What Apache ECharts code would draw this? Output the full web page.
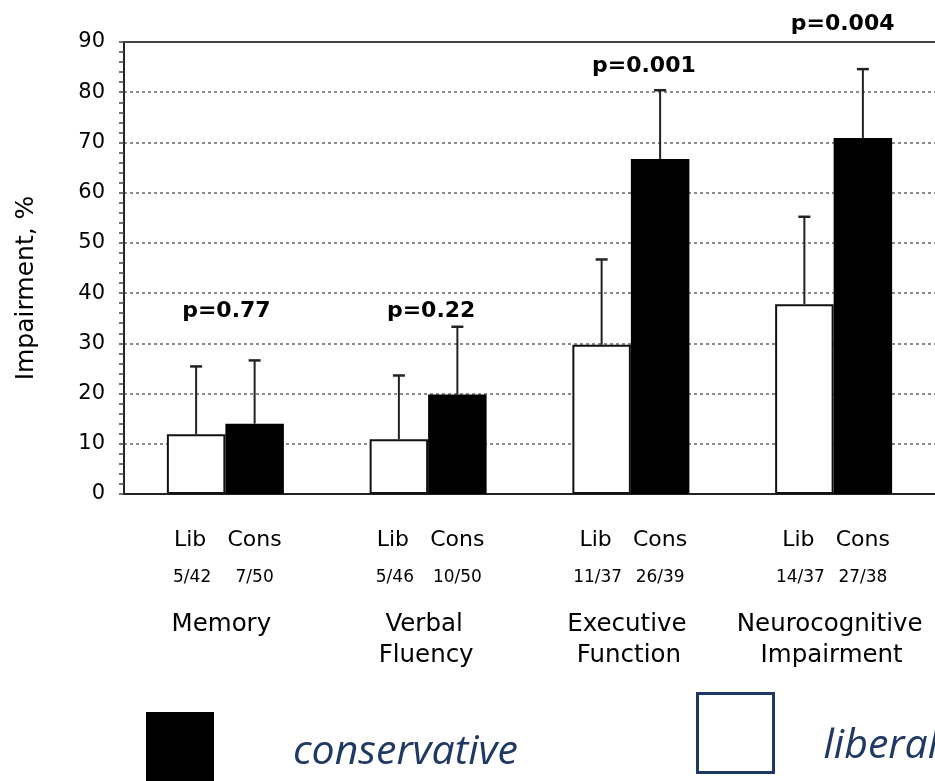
<!DOCTYPE html>
<html>
<head>
<meta charset="utf-8">
<script src="https://cdn.jsdelivr.net/npm/echarts@6/dist/echarts.min.js"></script>
<style>
  html, body { margin: 0; padding: 0; background: #fff; }
  #chart { width: 935px; height: 781px; }
</style>
</head>
<body>
<div id="chart"></div>
<script>
// ---- data ----
const categories = ['Memory', 'Verbal\nFluency', 'Executive\nFunction', 'Neurocognitive\nImpairment'];
const libCounts = ['5/42', '5/46', '11/37', '14/37'];
const consCounts = ['7/50', '10/50', '26/39', '27/38'];
const libValues = [11.9, 10.9, 29.7, 37.8];
const consValues = [14.0, 19.8, 66.7, 70.9];
const libErrorTop = [25.4, 23.6, 46.7, 55.2];
const consErrorTop = [26.6, 33.3, 80.4, 84.6];
const pValues = ['p=0.77', 'p=0.22', 'p=0.001', 'p=0.004'];
const yMin = 0, yMax = 90, yStep = 10;

// ---- layout (not data) ----
const BAR_W = 58.5;
const pLabelLevel = [36.4, 36.4, 85.2, 93.6];
const pLabelDx = [1, 3, 13, 9];
const FONT = '"DejaVu Sans", sans-serif';
const LEGEND_FONT = '"Open Sans", sans-serif';

function errRender(side) {
  return function (params, api) {
    const i = api.value(0);
    const base = api.coord([i, api.value(1)]);
    const top = api.coord([i, api.value(2)]);
    const x = base[0] + side * BAR_W / 2;
    return {
      type: 'group',
      children: [
        { type: 'line', shape: { x1: x, y1: base[1], x2: x, y2: top[1] }, style: { stroke: '#222', lineWidth: 2 } },
        { type: 'line', shape: { x1: x - 6, y1: top[1], x2: x + 6, y2: top[1] }, style: { stroke: '#222', lineWidth: 2.5 } }
      ]
    };
  };
}

const chart = echarts.init(document.getElementById('chart'), null, { renderer: 'canvas' });
const option = {
  animation: false,
  backgroundColor: '#fff',
  textStyle: { fontFamily: FONT },
  grid: { left: 124, right: 0, top: 42, bottom: 287 },
  legend: [
    {
      data: ['conservative'], left: 146, top: 712, padding: 0,
      itemWidth: 68, itemHeight: 80, icon: 'rect', selectedMode: false,
      textStyle: { fontFamily: LEGEND_FONT, fontStyle: 'italic', fontSize: 41, color: '#1f3864', padding: [0, 0, 0, 74] }
    },
    {
      data: [{ name: 'liberal', itemStyle: { color: '#fff', borderColor: '#1f3864', borderWidth: 3 } }],
      left: 696, top: 692, padding: 0,
      itemWidth: 76, itemHeight: 79, icon: 'rect', selectedMode: false,
      formatter: '{a|{name}}',
      textStyle: {
        fontFamily: LEGEND_FONT, fontStyle: 'italic', fontSize: 41, color: '#1f3864', padding: [0, 0, 0, 45],
        rich: { a: { fontFamily: LEGEND_FONT, fontStyle: 'italic', fontSize: 41, color: '#1f3864', padding: [26, 0, 0, 0] } }
      }
    }
  ],
  xAxis: [
    {
      type: 'category', data: categories,
      axisLine: { lineStyle: { color: '#222', width: 2 } },
      axisTick: { show: false },
      splitLine: { show: false },
      axisLabel: {
        interval: 0, margin: 35, color: '#000', fontFamily: FONT,
        formatter: function (value, idx) {
          const lines = value.split('\n');
          let s = '{h|Lib}{h|Cons}\n{n|' + libCounts[idx] + '}{n|' + consCounts[idx] + '}\n';
          s += lines.map((l, j) => '{' + (j === 0 ? 'c' : 'd') + '|' + l + '}').join('\n');
          return s;
        },
        rich: {
          h: { fontSize: 22, lineHeight: 22, width: BAR_W, align: 'center', color: '#000', fontFamily: FONT, padding: [0, 6, 0, 0] },
          n: { fontSize: 17, lineHeight: 54, width: BAR_W, align: 'center', color: '#000', fontFamily: FONT, padding: [0, 4, 0, 0] },
          c: { fontSize: 24.5, lineHeight: 40, color: '#000', fontFamily: FONT, padding: [0, 8, 0, 0] },
          d: { fontSize: 24.5, lineHeight: 22, color: '#000', fontFamily: FONT, padding: [0, 4, 0, 0] }
        }
      }
    },
    {
      type: 'category', data: categories, position: 'top',
      axisLine: { show: true, lineStyle: { color: '#444', width: 2 } },
      axisTick: { show: false }, axisLabel: { show: false }, splitLine: { show: false }
    }
  ],
  yAxis: {
    type: 'value', min: yMin, max: yMax, interval: yStep,
    name: 'Impairment, %', nameLocation: 'middle', nameGap: 85,
    nameTextStyle: { fontSize: 25, color: '#000', fontFamily: FONT, padding: [0, 40, 0, 0] },
    axisLine: { show: true, lineStyle: { color: '#222', width: 2 } },
    axisTick: { show: true, length: 5, lineStyle: { color: '#444', width: 1.5 } },
    minorTick: { show: true, splitNumber: 5, length: 5, lineStyle: { color: '#444', width: 1.5 } },
    axisLabel: { fontSize: 21, color: '#000', margin: 19, fontFamily: FONT },
    splitLine: { show: true, lineStyle: { color: '#666', type: [3, 3], width: 1.5 } }
  },
  series: [
    { name: 'liberal', type: 'bar', data: libValues, barWidth: BAR_W, barGap: '0%',
      itemStyle: { color: '#fff', borderColor: '#111', borderWidth: 2 } },
    { name: 'conservative', type: 'bar', data: consValues, barWidth: BAR_W, barGap: '0%',
      itemStyle: { color: '#000' } },
    { name: 'errLib', type: 'custom', renderItem: errRender(-1), z: 3,
      data: libErrorTop.map((e, i) => [i, libValues[i], e]) },
    { name: 'errCons', type: 'custom', renderItem: errRender(1), z: 3,
      data: consErrorTop.map((e, i) => [i, consValues[i], e]) },
    { name: 'pvals', type: 'custom', z: 4, clip: false,
      data: pValues.map((p, i) => [i, pLabelLevel[i]]),
      renderItem: function (params, api) {
        const i = api.value(0);
        const pt = api.coord([i, api.value(1)]);
        return {
          type: 'text', x: pt[0] + pLabelDx[i], y: pt[1],
          style: { text: pValues[params.dataIndex], textAlign: 'center', textVerticalAlign: 'middle',
                   font: 'bold 22px "DejaVu Sans", sans-serif', fill: '#000' }
        };
      } }
  ]
};
chart.setOption(option);
</script>
</body>
</html>
